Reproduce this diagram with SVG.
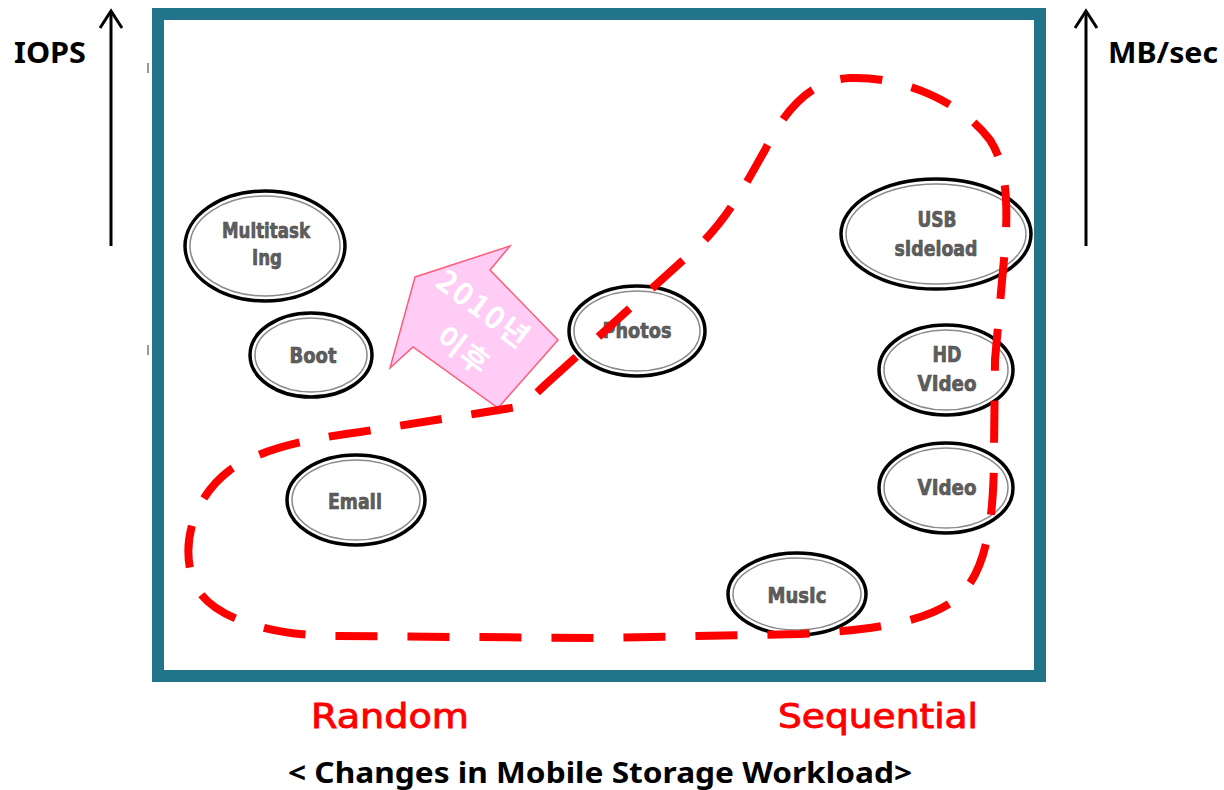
<svg xmlns="http://www.w3.org/2000/svg" width="1224" height="790" viewBox="0 0 1224 790">
<style>
.ring{fill:#fff;stroke:#000;stroke-width:3.5}
.inner{fill:none;stroke:#8a8a8a;stroke-width:1.5}
.lbl{font-family:"DejaVu Sans Condensed","DejaVu Sans",sans-serif;font-weight:bold;font-size:22px;fill:#5e5e5e;stroke:#4a4a4a;stroke-width:0.6;text-anchor:middle}
.axis{font-family:"Noto Sans","Liberation Sans",sans-serif;font-weight:bold;font-size:29px;fill:#000}
.cat{font-family:"DejaVu Sans","Liberation Sans",sans-serif;font-size:34px;fill:#ff0000;stroke:#ff0000;stroke-width:0.9}
.up{fill:none;stroke:#000;stroke-width:3}
</style>
<rect width="1224" height="790" fill="#fff"/>
<g id="frame">
<rect x="158" y="14" width="882" height="662" fill="#fff" stroke="#217489" stroke-width="12"/>
<line x1="148" y1="63" x2="148" y2="73" stroke="#777" stroke-width="1.5"/>
<line x1="148" y1="345" x2="148" y2="355" stroke="#777" stroke-width="1.5"/>
</g>
<g id="iops-axis">
<line class="up" x1="111" y1="246" x2="111" y2="12"/>
<polyline class="up" points="100,28 111,11 122,28"/>
<text class="axis" x="14" y="63" textLength="72" lengthAdjust="spacingAndGlyphs">IOPS</text>
</g>
<g id="mbsec-axis">
<line class="up" x1="1086" y1="246" x2="1086" y2="12"/>
<polyline class="up" points="1075,28 1086,11 1097,28"/>
<text class="axis" x="1108" y="63" textLength="110" lengthAdjust="spacingAndGlyphs">MB/sec</text>
</g>
<g id="arrow-2010">
<polygon points="415,277 510,246 490,270 558,340 498,408 413,347 390,368" fill="#ffccf6" stroke="#ff5a78" stroke-width="1.5"/>
<g transform="translate(483,310) rotate(37)" font-family="'Noto Sans CJK KR',sans-serif" font-weight="bold" font-size="30" fill="#fff" text-anchor="middle">
<text x="0" y="10" letter-spacing="2">2010년</text>
<text x="9" y="55" letter-spacing="2">이후</text>
</g>
</g>
<g id="multitasking"><ellipse class="ring" cx="265" cy="246" rx="80" ry="55"/><ellipse class="inner" cx="265" cy="246" rx="75" ry="50"/>
<text class="lbl" x="266" y="238" textLength="88" lengthAdjust="spacingAndGlyphs">Multitask</text>
<text class="lbl" x="267" y="265" textLength="30" lengthAdjust="spacingAndGlyphs">Ing</text></g>
<g id="boot"><ellipse class="ring" cx="311" cy="355" rx="61" ry="42"/><ellipse class="inner" cx="311" cy="355" rx="56" ry="37"/>
<text class="lbl" x="313" y="363" textLength="47" lengthAdjust="spacingAndGlyphs">Boot</text></g>
<g id="photos"><ellipse class="ring" cx="637" cy="331" rx="68" ry="45"/><ellipse class="inner" cx="637" cy="331" rx="63" ry="40"/>
<text class="lbl" x="637" y="338" textLength="69" lengthAdjust="spacingAndGlyphs">Photos</text></g>
<g id="usb-sideload"><ellipse class="ring" cx="936" cy="234" rx="95" ry="55"/><ellipse class="inner" cx="936" cy="234" rx="90" ry="50"/>
<text class="lbl" x="937" y="227" textLength="39" lengthAdjust="spacingAndGlyphs">USB</text>
<text class="lbl" x="936" y="256" textLength="83" lengthAdjust="spacingAndGlyphs">sIdeload</text></g>
<g id="hd-video"><ellipse class="ring" cx="946" cy="370" rx="67" ry="45"/><ellipse class="inner" cx="946" cy="370" rx="62" ry="40"/>
<text class="lbl" x="947" y="362" textLength="29" lengthAdjust="spacingAndGlyphs">HD</text>
<text class="lbl" x="947" y="391" textLength="59" lengthAdjust="spacingAndGlyphs">VIdeo</text></g>
<g id="video"><ellipse class="ring" cx="946" cy="488" rx="67" ry="45"/><ellipse class="inner" cx="946" cy="488" rx="62" ry="40"/>
<text class="lbl" x="947" y="495" textLength="59" lengthAdjust="spacingAndGlyphs">VIdeo</text></g>
<g id="music"><ellipse class="ring" cx="797" cy="594" rx="69" ry="41"/><ellipse class="inner" cx="797" cy="594" rx="64" ry="36"/>
<text class="lbl" x="797" y="603" textLength="59" lengthAdjust="spacingAndGlyphs">MusIc</text></g>
<g id="email"><ellipse class="ring" cx="356" cy="500" rx="69" ry="45"/><ellipse class="inner" cx="356" cy="500" rx="64" ry="40"/>
<text class="lbl" x="355" y="509" textLength="54" lengthAdjust="spacingAndGlyphs">EmaIl</text></g>
<g id="connectors">
<path d="M 545 385 L 700 245 C 730 215 745 185 765 150 C 785 110 810 80 850 78 C 900 76 960 100 990 140 C 1010 170 1008 220 1003 270 L 995 360 L 994 450 C 994 505 990 560 965 590 C 940 620 880 630 800 634 L 600 638 L 330 636 C 260 634 210 615 195 585 C 180 550 190 500 230 470 C 260 450 300 440 360 432 L 480 413 L 523 406 Z" fill="none" stroke="#ff0000" stroke-width="8" stroke-dasharray="42 30"/>
</g>
<g id="captions">
<text class="cat" x="390" y="728" text-anchor="middle" textLength="158" lengthAdjust="spacingAndGlyphs">Random</text>
<text class="cat" x="878" y="728" text-anchor="middle" textLength="200" lengthAdjust="spacingAndGlyphs">Sequential</text>
<text x="600" y="783" text-anchor="middle" font-family="'Noto Sans','Liberation Sans',sans-serif" font-weight="bold" font-size="29" fill="#000" textLength="624" lengthAdjust="spacingAndGlyphs">&lt; Changes in Mobile Storage Workload&gt;</text>
</g>
</svg>
